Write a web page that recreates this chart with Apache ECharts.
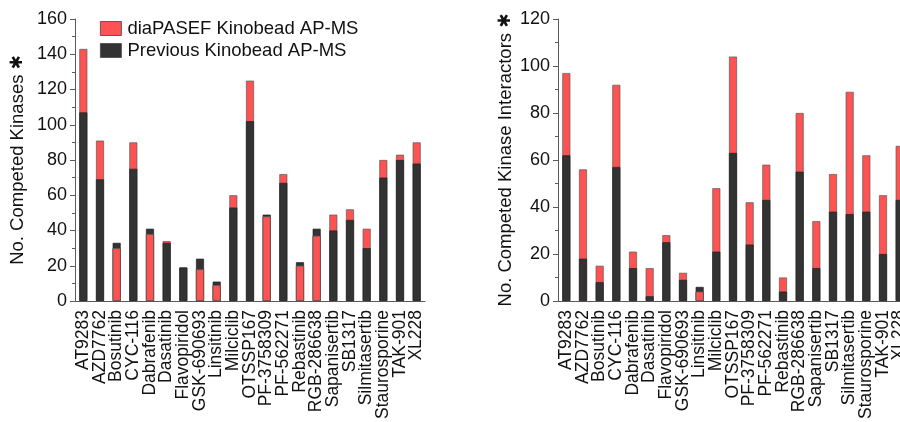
<!DOCTYPE html>
<html>
<head>
<meta charset="utf-8">
<script src="https://cdn.jsdelivr.net/npm/echarts@6/dist/echarts.min.js"></script>
<style>
html,body{margin:0;padding:0;background:#fff;}
#c{width:900px;height:422px;}
</style>
</head>
<body>
<div id="c"></div>
<script>
var categories = ['AT9283','AZD7762','Bosutinib','CYC-116','Dabrafenib','Dasatinib','Flavopiridol','GSK-690693','Linsitinib','Milciclib','OTSSP167','PF-3758309','PF-562271','Rebastinib','RGB-286638','Sapanisertib','SB1317','Silmitasertib','Staurosporine','TAK-901','XL228'];
var kinasesDia  = [143, 91, 30, 90, 38, 34, 19, 18,  9, 60, 125, 48, 72, 20, 37, 49, 52, 41, 80, 83, 90];
var kinasesPrev = [107, 69, 33, 75, 41, 33, 19, 24, 11, 53, 102, 49, 67, 22, 41, 40, 46, 30, 70, 80, 78];
var interDia    = [97, 56, 15, 92, 21, 14, 28, 12, 4, 48, 104, 42, 58, 10, 80, 34, 54, 89, 62, 45, 66];
var interPrev   = [62, 18,  8, 57, 14,  2, 25,  9, 6, 21,  63, 24, 43,  4, 55, 14, 38, 37, 38, 20, 43];
var leftTicks = [0, 160, 20];
var rightTicks = [0, 120, 20];

var RED = '#ff5252', DARK = '#333333', EDGE = '#5a5a5a';
var FONT = 'Liberation Sans, Arial, sans-serif';
var NAME_DIA = 'diaPASEF Kinobead AP-MS', NAME_PREV = 'Previous Kinobead AP-MS';

function frontRed(dia, prev){
  return dia.map(function(v,i){ return v < prev[i] ? v : '-'; });
}
function xAxis(gi){
  return {
    type:'category', gridIndex:gi, data:categories,
    axisLine:{lineStyle:{color:EDGE,width:1}},
    axisTick:{alignWithLabel:true,length:4,lineStyle:{color:EDGE}},
    axisLabel:{rotate:90,interval:0,fontSize:17.5,color:'#111',fontFamily:FONT,margin:9}
  };
}
function yAxis(gi, t, name, gap){
  return {
    type:'value', gridIndex:gi, min:t[0], max:t[1], interval:t[2],
    name:name, nameLocation:'middle', nameGap:gap,
    nameTextStyle:{fontSize:18.5,color:'#111',fontFamily:FONT,
      rich:{s:{fontSize:17,color:'#111',fontFamily:'DejaVu Sans'}}},
    axisLine:{show:true,lineStyle:{color:EDGE,width:1}},
    axisTick:{show:true,length:5,lineStyle:{color:EDGE}},
    minorTick:{show:true,splitNumber:2,length:3,lineStyle:{color:EDGE}},
    splitLine:{show:false},
    axisLabel:{fontSize:18,color:'#111',fontFamily:FONT,margin:8}
  };
}
function bars(gi, dia, prev){
  var common = {type:'bar', xAxisIndex:gi, yAxisIndex:gi, barWidth:8, barGap:'-100%'};
  return [
    Object.assign({name:NAME_DIA, data:dia, itemStyle:{color:RED,borderColor:EDGE,borderWidth:0.7}}, common),
    Object.assign({name:NAME_PREV, data:prev, itemStyle:{color:DARK,borderColor:'#222',borderWidth:0.7}}, common),
    Object.assign({name:'front'+gi, data:frontRed(dia,prev), itemStyle:{color:RED,borderColor:EDGE,borderWidth:0.7}}, common)
  ];
}

var chart = echarts.init(document.getElementById('c'), null, {renderer:'canvas'});
chart.setOption({
  animation:false,
  backgroundColor:'#fff',
  legend:{
    data:[NAME_DIA, NAME_PREV], orient:'vertical', left:95, top:14,
    icon:'rect', itemWidth:21, itemHeight:14, itemGap:3,
    itemStyle:{borderColor:'#444',borderWidth:0.8},
    textStyle:{fontSize:18.5,color:'#111',fontFamily:FONT,padding:[0,0,0,1]}
  },
  grid:[
    {left:75, top:19, width:350, height:282, outerBoundsMode:'none', containLabel:false},
    {left:558, top:19, width:350, height:282, outerBoundsMode:'none', containLabel:false}
  ],
  xAxis:[xAxis(0), xAxis(1)],
  yAxis:[
    yAxis(0, leftTicks, 'No. Competed Kinases {s|✱}', 48),
    yAxis(1, rightTicks, 'No. Competed Kinase Interactors {s|✱}', 43)
  ],
  series: bars(0, kinasesDia, kinasesPrev).concat(bars(1, interDia, interPrev))
});
</script>
</body>
</html>
